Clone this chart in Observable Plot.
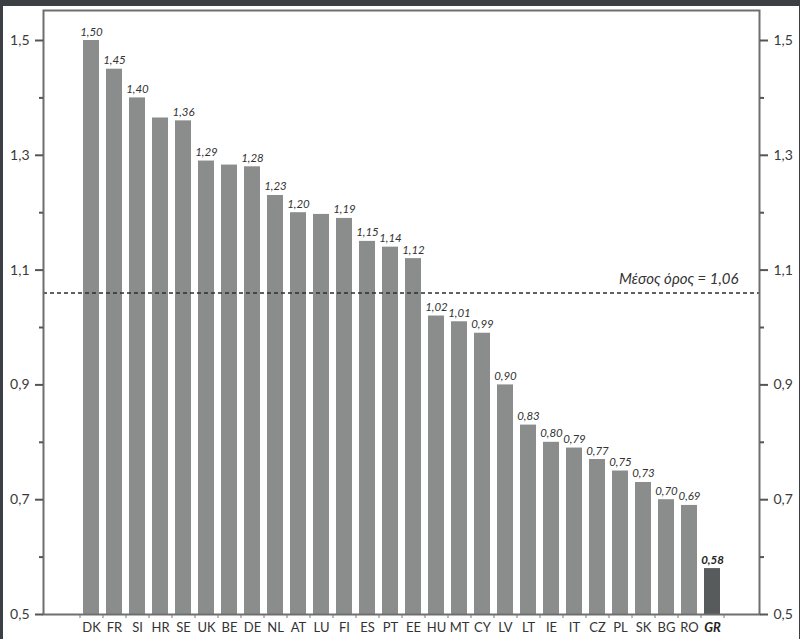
<!DOCTYPE html>
<html>
<head>
<meta charset="utf-8">
<script src="https://cdn.jsdelivr.net/npm/d3@7"></script>
<script src="https://cdn.jsdelivr.net/npm/@observablehq/plot@0.6"></script>
<style>
  html, body { margin: 0; padding: 0; background: #3c3f43; width: 800px; height: 639px; overflow: hidden; }
  #chart { position: absolute; left: 3px; top: 6px; width: 796px; height: 633px; background: #fff; }
</style>
</head>
<body>
<div id="chart"></div>
<script>
const countries = ["DK","FR","SI","HR","SE","UK","BE","DE","NL","AT","LU","FI","ES","PT","EE","HU","MT","CY","LV","LT","IE","IT","CZ","PL","SK","BG","RO","GR"];
const values = [1.50,1.45,1.40,1.365,1.36,1.29,1.283,1.28,1.23,1.20,1.197,1.19,1.15,1.14,1.12,1.02,1.01,0.99,0.90,0.83,0.80,0.79,0.77,0.75,0.73,0.70,0.69,0.58];
const valueLabels = ["1,50","1,45","1,40","","1,36","1,29","","1,28","1,23","1,20","","1,19","1,15","1,14","1,12","1,02","1,01","0,99","0,90","0,83","0,80","0,79","0,77","0,75","0,73","0,70","0,69","0,58"];
const highlight = "GR";
const yMajorTicks = [0.5, 0.7, 0.9, 1.1, 1.3, 1.5];
const yMinorTicks = [0.6, 0.8, 1.0, 1.2, 1.4];
const yDomain = [0.5, 1.5];
const meanValue = 1.06;
const meanLabel = "Μέσος όρος = 1,06";

const data = countries.map((c, i) => ({c, v: values[i], label: valueLabels[i]}));
const others = data.filter(d => d.c !== highlight);
const hi = data.filter(d => d.c === highlight);
const fmt = d => d.toFixed(1).replace(".", ",");
const font = "Lato, 'Noto Sans', sans-serif";

const plot = Plot.plot({
  width: 796,
  height: 633,
  marginLeft: 40,
  marginRight: 40,
  marginTop: 4,
  marginBottom: 25,
  style: {fontFamily: font, background: "white", color: "#3a3a3a"},
  x: {domain: countries, padding: 0.3, insetLeft: 33, insetRight: 31, label: null},
  y: {domain: yDomain, insetTop: 30, insetBottom: 0, label: null},
  marks: [
    Plot.barY(others, {x: "c", y1: () => yDomain[0], y2: "v", fill: "#8b8d8d"}),
    Plot.barY(hi, {x: "c", y1: () => yDomain[0], y2: "v", fill: "#575b5b"}),
    Plot.ruleY([meanValue], {stroke: "#2e2e2e", strokeWidth: 1.4, strokeDasharray: "4,3"}),
    Plot.text([meanValue], {y: d => d, frameAnchor: "right", text: () => meanLabel, textAnchor: "end", dx: -21, dy: -9, lineAnchor: "bottom", fontStyle: "italic", fontSize: 15, fill: "#333"}),
    Plot.text(others.filter(d => d.label), {x: "c", y: "v", text: "label", dy: -5, lineAnchor: "bottom", fontStyle: "italic", fontSize: 11.5, fill: "#333"}),
    Plot.text(hi, {x: "c", y: "v", text: "label", dy: -5, lineAnchor: "bottom", fontStyle: "italic", fontWeight: "bold", fontSize: 11.5, fill: "#222"}),
    Plot.frame({stroke: "#6e6e6e", strokeWidth: 2}),
    Plot.axisY({anchor: "left", label: null, ticks: yMajorTicks, tickSize: 8, tickPadding: 6, strokeWidth: 2, tickFormat: fmt, fontSize: 14, stroke: "#555", fill: "#3a3a3a"}),
    Plot.axisY({anchor: "left", label: null, ticks: yMinorTicks, tickSize: 4, tickFormat: () => "", strokeWidth: 2, stroke: "#555"}),
    Plot.axisY({anchor: "right", label: null, ticks: yMajorTicks, tickSize: 8, tickPadding: 6, strokeWidth: 2, tickFormat: fmt, fontSize: 14, stroke: "#555", fill: "#3a3a3a"}),
    Plot.axisY({anchor: "right", label: null, ticks: yMinorTicks, tickSize: 4, tickFormat: () => "", strokeWidth: 2, stroke: "#555"}),
    Plot.axisX({label: null, ticks: countries, tickSize: 4, tickFormat: () => "", dx: -11.5, stroke: "#777"}),
    Plot.axisX({label: null, ticks: [highlight], tickSize: 4, tickFormat: () => "", dx: 11.5, stroke: "#777"}),
    Plot.text(others, {x: "c", frameAnchor: "bottom", text: "c", dy: 8, lineAnchor: "top", fontSize: 13, fill: "#333"}),
    Plot.text(hi, {x: "c", frameAnchor: "bottom", text: "c", dy: 8, lineAnchor: "top", fontSize: 13, fontStyle: "italic", fontWeight: "bold", fill: "#222"})
  ]
});
document.getElementById("chart").appendChild(plot);
</script>
</body>
</html>
